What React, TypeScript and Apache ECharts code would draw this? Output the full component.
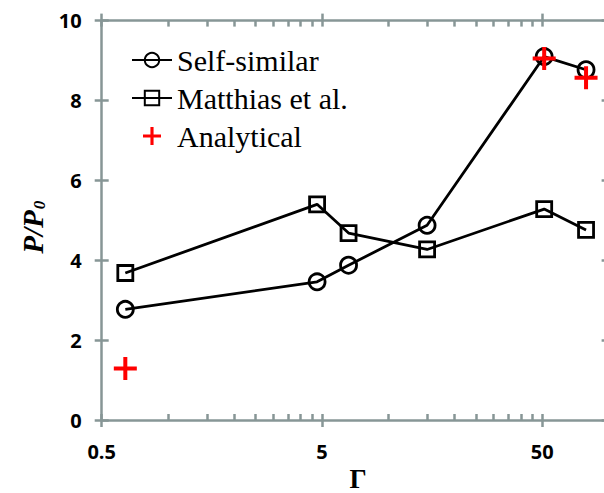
import React, { useEffect, useRef } from 'react';
import * as echarts from 'echarts';

const gammaValues = [0.64, 4.75, 6.6, 15, 51, 79];
const selfSimilar = [2.77, 3.46, 3.875, 4.875, 9.1, 8.77];
const matthias = [3.68, 5.4, 4.68, 4.27, 5.28, 4.76];
const analyticalGamma = [0.64, 51, 79];
const analytical = [1.29, 9.05, 8.57];
const xMajorTicks = [0.5, 5, 50];
const xMinorTicks = [1, 1.5, 2, 2.5, 3, 3.5, 4, 4.5, 10, 15, 20, 25, 30, 35, 40, 45];
const seriesNames = ['Self-similar', 'Matthias et al.', 'Analytical'];

const AXIS_COLOR = '#879696';
const SERIF = "'Liberation Serif', 'Times New Roman', serif";
const PLUS = 'path://M9.5,0h4v23h-4z M0,9.5h23v4h-23z';

export default function App() {
  const ref = useRef<HTMLDivElement>(null);
  useEffect(() => {
    if (!ref.current) return;
    const chart = echarts.init(ref.current, null, { renderer: 'svg' });
    const logBase = { type: 'log', logBase: 10, min: 0.5, max: 100, splitLine: { show: false }, minorTick: { show: false } } as any;
    const tickStyle = { color: AXIS_COLOR, width: 2.5 };
    const noLabel = { show: false };
    const valBase = { type: 'value', min: 0, max: 10, interval: 2, splitLine: { show: false } } as any;
    const line = (show: boolean) => ({ show, onZero: false, lineStyle: { color: AXIS_COLOR, width: 2.5 } });
    const option: any = {
      animation: false,
      backgroundColor: '#fff',
      grid: { left: 101.7, top: 20.6, right: 11.4, bottom: 73, containLabel: false, outerBoundsMode: 'none' },
      xAxis: [
        {
          ...logBase, position: 'bottom',
          axisLine: line(true),
          axisTick: { show: true, customValues: xMajorTicks, inside: false, length: 7, lineStyle: tickStyle },
          axisLabel: {
            customValues: xMajorTicks, margin: 21, color: '#000', fontFamily: 'Open Sans', fontWeight: 'bold', fontSize: 20,
            formatter: (v: number) => String(v),
          },
          name: 'Γ', nameLocation: 'middle', nameGap: 49,
          nameTextStyle: { fontFamily: SERIF, fontWeight: 'bold', fontSize: 27, lineHeight: 20, color: '#000', padding: [0, 0, 0, 6] },
        },
        {
          ...logBase, position: 'bottom',
          axisLine: line(false),
          axisTick: { show: true, customValues: [...xMajorTicks, ...xMinorTicks], inside: true, length: 6, lineStyle: tickStyle },
          axisLabel: noLabel,
        },
        {
          ...logBase, position: 'top',
          axisLine: line(true),
          axisTick: { show: true, customValues: xMajorTicks, inside: false, length: 7, lineStyle: tickStyle },
          axisLabel: noLabel,
        },
        {
          ...logBase, position: 'top',
          axisLine: line(false),
          axisTick: { show: true, customValues: [...xMajorTicks, ...xMinorTicks], inside: true, length: 6, lineStyle: tickStyle },
          axisLabel: noLabel,
        },
      ],
      yAxis: [
        {
          ...valBase, position: 'left',
          axisLine: line(true),
          axisTick: { show: true, inside: false, length: 7, lineStyle: tickStyle },
          axisLabel: { margin: 20, color: '#000', fontFamily: 'Open Sans', fontWeight: 'bold', fontSize: 20 },
          name: '{a|P/P}{b|0}', nameLocation: 'middle', nameGap: 54,
          nameTextStyle: {
            color: '#000',
            padding: [0, 14, 0, 0],
            rich: {
              a: { fontFamily: SERIF, fontStyle: 'italic', fontWeight: 'bold', fontSize: 29, lineHeight: 29, verticalAlign: 'top', color: '#000' },
              b: { fontFamily: SERIF, fontStyle: 'italic', fontWeight: 'bold', fontSize: 17, lineHeight: 17, padding: [23, 0, 0, 1], verticalAlign: 'bottom', color: '#000' },
            },
          },
        },
        {
          ...valBase, position: 'left',
          axisLine: line(false),
          axisTick: { show: true, inside: true, length: 7, lineStyle: tickStyle },
          axisLabel: noLabel,
        },
        {
          ...valBase, position: 'right',
          axisLine: line(true),
          axisTick: { show: true, inside: false, length: 7, lineStyle: tickStyle },
          axisLabel: noLabel,
        },
        {
          ...valBase, position: 'right',
          axisLine: line(false),
          axisTick: { show: true, inside: true, length: 7, lineStyle: tickStyle },
          axisLabel: noLabel,
        },
      ],
      legend: {
        orient: 'vertical', left: 131, top: 45, padding: 0, itemGap: 8, itemWidth: 40, itemHeight: 18,
        selectedMode: false, data: seriesNames,
        textStyle: { fontFamily: SERIF, fontSize: 30, lineHeight: 30, color: '#000' },
      },
      series: [
        {
          name: seriesNames[0], type: 'line', xAxisIndex: 0, yAxisIndex: 0,
          data: gammaValues.map((g, i) => [g, selfSimilar[i]]),
          symbol: 'circle', symbolSize: 16,
          lineStyle: { color: '#000', width: 2.8 },
          itemStyle: { color: 'rgba(0,0,0,0)', borderColor: '#000', borderWidth: 2.8 },
        },
        {
          name: seriesNames[1], type: 'line', xAxisIndex: 0, yAxisIndex: 0,
          data: gammaValues.map((g, i) => [g, matthias[i]]),
          symbol: 'rect', symbolSize: 15,
          lineStyle: { color: '#000', width: 2.8 },
          itemStyle: { color: 'rgba(0,0,0,0)', borderColor: '#000', borderWidth: 2.8 },
        },
        {
          name: seriesNames[2], type: 'scatter', xAxisIndex: 0, yAxisIndex: 0,
          data: analyticalGamma.map((g, i) => [g, analytical[i]]),
          symbol: PLUS, symbolSize: 23,
          itemStyle: { color: '#ff0000', opacity: 1 },
          z: 5,
        },
      ],
    };
    chart.setOption(option);
    return () => chart.dispose();
  }, []);
  return (
    <div style={{ position: 'fixed', left: 0, top: 0, width: 604, height: 493, overflow: 'hidden', background: '#fff' }}>
      <div ref={ref} style={{ width: 620, height: 493 }} />
    </div>
  );
}
